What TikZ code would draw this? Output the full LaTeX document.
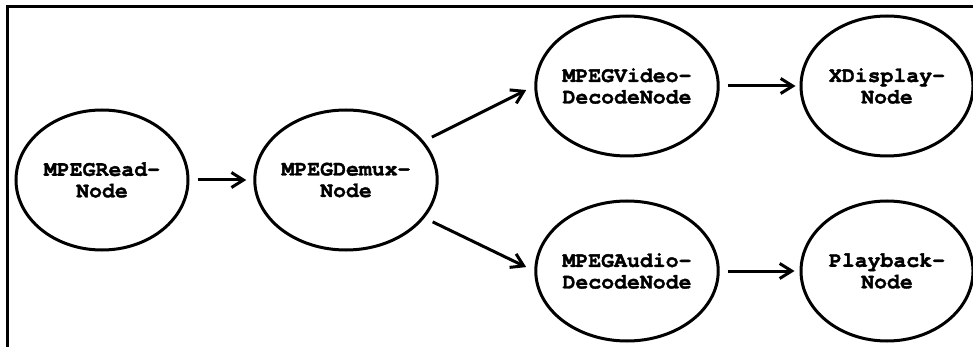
\documentclass[tikz,border=0pt]{standalone}
\usepackage{fontspec}
\setmonofont[BoldFeatures={FakeBold=1.6}]{TeX Gyre Cursor}
\usetikzlibrary{arrows.meta,shapes.geometric}
\tikzset{
  proc/.style={draw, ellipse, line width=3pt, minimum width=172pt, minimum height=140pt,
    inner sep=0pt, align=center, font=\fontsize{21.5}{21.5}\selectfont\ttfamily\bfseries},
  flow/.style={line width=3pt, -{Straight Barb[length=12pt,width=15pt]}},
  frameline/.style={line width=3pt}
}
\begin{document}
\begin{tikzpicture}[x=1pt,y=-1pt]
  \useasboundingbox (0,0) rectangle (973,347);
  \clip (0,0) rectangle (973,347);
  % open frame: top and left edges only
  \coordinate (fa) at (973,7);
  \coordinate (fb) at (7,7);
  \coordinate (fc) at (7,347);
  \draw[frameline] (fa) -- (fb) -- (fc);
  % processing nodes
  \node[proc] (read)  at (102,180) {MPEGRead-\\Node};
  \node[proc] (demux) at (346,180) {MPEGDemux-\\Node};
  \node[proc] (video) at (627,86)  {MPEGVideo-\\DecodeNode};
  \node[proc] (disp)  at (887,86)  {XDisplay-\\Node};
  \node[proc] (audio) at (627,271) {MPEGAudio-\\DecodeNode};
  \node[proc] (play)  at (887,271) {Playback-\\Node};
  % data flow
  \draw[flow, shorten <=8pt, shorten >=7pt] (read) -- (demux);
  \draw[flow, shorten <=9pt, shorten >=9pt] (demux) -- (video.west);
  \draw[flow, shorten <=9pt, shorten >=9pt] (demux) -- (audio.west);
  \draw[flow, shorten <=8pt, shorten >=4pt] (video) -- (disp);
  \draw[flow, shorten <=8pt, shorten >=5pt] (audio) -- (play);
\end{tikzpicture}
\end{document}
